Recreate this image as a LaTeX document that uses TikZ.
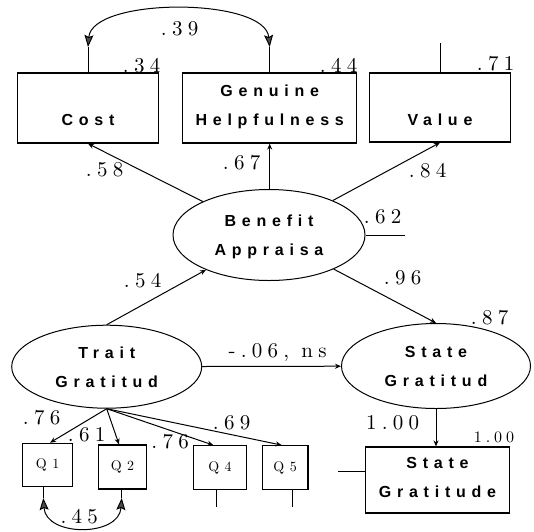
\documentclass[tikz,border=0pt]{standalone}
\usepackage{fontspec}
\newfontfamily\labfont{Liberation Sans}[LetterSpace=36]
\newfontfamily\numfam{lmroman10-regular.otf}[LetterSpace=25]
\newfontfamily\qfam{lmroman10-regular.otf}[LetterSpace=40]
\usetikzlibrary{arrows.meta,shapes.geometric}
\newcommand\numf{\numfam\fontsize{21}{23}\selectfont}
\newcommand\numsm{\numfam\fontsize{16}{18}\selectfont}
\newcommand\qf{\qfam\fontsize{14}{16}\selectfont}
\newcommand\twol[2]{\strut#1\\\strut#2}
\newcommand\bstrut{\rule[-11.2pt]{0pt}{29pt}}
\newcommand\twob[2]{\bstrut#1\\\bstrut#2}
\begin{document}
\begin{tikzpicture}[x=1pt,y=-1pt,
  box/.style={draw,line width=1.2pt,rectangle,inner sep=0pt,align=center,
    font=\labfont\bfseries\fontsize{16}{29}\selectfont},
  lat/.style={draw,line width=1pt,ellipse,inner sep=0pt,align=center,
    font=\labfont\bfseries\fontsize{16}{29}\selectfont},
  qbox/.style={draw,line width=1.2pt,rectangle,inner sep=0pt,font=\qf},
  coef/.style={inner sep=0pt,font=\numf,xshift=2.6pt},
  coefsm/.style={inner sep=0pt,font=\numsm,xshift=2pt},
  reg/.style={line width=1pt,-{Stealth[length=6pt,width=5pt]}},
  cov/.style={line width=1pt,{Stealth[length=12pt,width=9pt,inset=2pt,fill=black!70]}-{Stealth[length=12pt,width=9pt,inset=2pt,fill=black!70]}},
  err/.style={line width=1pt}]
\useasboundingbox (0,0) rectangle (534,531);

% observed boxes
\node[box,minimum width=141.4pt,minimum height=70pt] (cost) at (88,108) {\twob{}{Cost}};
\node[box,minimum width=174pt,minimum height=70pt] (genuine) at (269.7,108) {\twob{Genuine}{Helpfulness}};
\node[box,minimum width=141.4pt,minimum height=69pt] (value) at (440,107.5) {\twob{}{Value}};
\node[box,minimum width=143.6pt,minimum height=66pt] (stateb) at (437.5,480) {\twob{State}{Gratitude}};

% latent ellipses
\node[lat,minimum width=192pt,minimum height=91pt] (benefit) at (269,235) {\twol{Benefit}{Appraisa}};
\node[lat,minimum width=190pt,minimum height=83pt] (trait) at (106.7,366.7) {\twol{Trait}{Gratitud}};
\node[lat,minimum width=189pt,minimum height=85pt] (stateg) at (436,366) {\twol{State}{Gratitud}};

% item boxes
\node[qbox,minimum width=50pt,minimum height=43.4pt] (Q1) at (47.7,465) {Q1};
\node[qbox,minimum width=48.4pt,minimum height=44pt] (Q2) at (122.5,467) {Q2};
\node[qbox,minimum width=53.4pt,minimum height=43.6pt] (Q4) at (220,467.5) {Q4};
\node[qbox,minimum width=45.7pt,minimum height=43.6pt] (Q5) at (285.2,467.5) {Q5};

% free ends
\coordinate (e1) at (88,47);
\coordinate (e2) at (269.7,47);
\coordinate (ev) at (440,43);
\coordinate (eb) at (405,235);
\coordinate (es) at (338,471.7);
\coordinate (e3) at (43.3,498);
\coordinate (e4) at (121.7,498);
\coordinate (eq4) at (216.7,506.7);
\coordinate (eq5) at (292.3,506.7);

% error lines
\draw[err] (cost.north) -- (e1);
\draw[err] (genuine.north) -- (e2);
\draw[err] (value.north) -- (ev);
\draw[err] (benefit.east) -- (eb);
\draw[err] (stateb.west |- es) -- (es);
\draw[err] (e3 |- Q1.south) -- (e3);
\draw[err] (e4 |- Q2.south) -- (e4);
\draw[err] (eq4 |- Q4.south) -- (eq4);
\draw[err] (eq5 |- Q5.south) -- (eq5);

% covariances
\draw[cov] (e1) .. controls (92,-3) and (265,-3) .. (e2);
\draw[cov] (e3) .. controls (46,537) and (119,537) .. (e4);

% paths
\draw[reg] (benefit) -- (cost.south);
\draw[reg] (genuine.south |- benefit.north) -- (genuine.south);
\draw[reg] (benefit) -- (value.south);
\draw[reg] (trait.north) -- (benefit);
\draw[reg] (benefit) -- (stateg.north);
\draw[reg] (trait) -- (stateg);
\draw[reg] (stateg.south) -- (stateg.south |- stateb.north);
\draw[reg] (trait.south) -- ([xshift=2.3pt]Q1.north);
\draw[reg] (trait.south) -- ([xshift=-3.5pt]Q2.north);
\draw[reg] (trait.south) -- ([xshift=-6.7pt]Q4.north);
\draw[reg] (trait.south) -- ([xshift=-3.5pt]Q5.north);

% coefficients
\node[coef] (c39) at (177,29) {.39};
\node[coef] (c34) at (139,65.5) {.34};
\node[coef] (c44) at (336,65) {.44};
\node[coef] (c71) at (493,64) {.71};
\node[coef] (c58) at (102,170) {.58};
\node[coef] (c67) at (239,163) {.67};
\node[coef] (c84) at (425,171) {.84};
\node[coef] (c62) at (380,217) {.62};
\node[coef] (c54) at (140,281) {.54};
\node[coef] (c96) at (400,278) {.96};
\node[coef] (c87) at (487,318) {.87};
\node[coef] (c06) at (275,353) {-.06, ns};
\node[coef] (c100a) at (390,423) {1.00};
\node[coefsm] (c100b) at (492,437) {1.00};
\node[coef] (c76a) at (39,418) {.76};
\node[coef] (c61) at (84,435) {.61};
\node[coef] (c76b) at (167.5,441.7) {.76};
\node[coef] (c69) at (229,422.7) {.69};
\node[coef] (c45) at (76.7,516.7) {.45};
\end{tikzpicture}
\end{document}
